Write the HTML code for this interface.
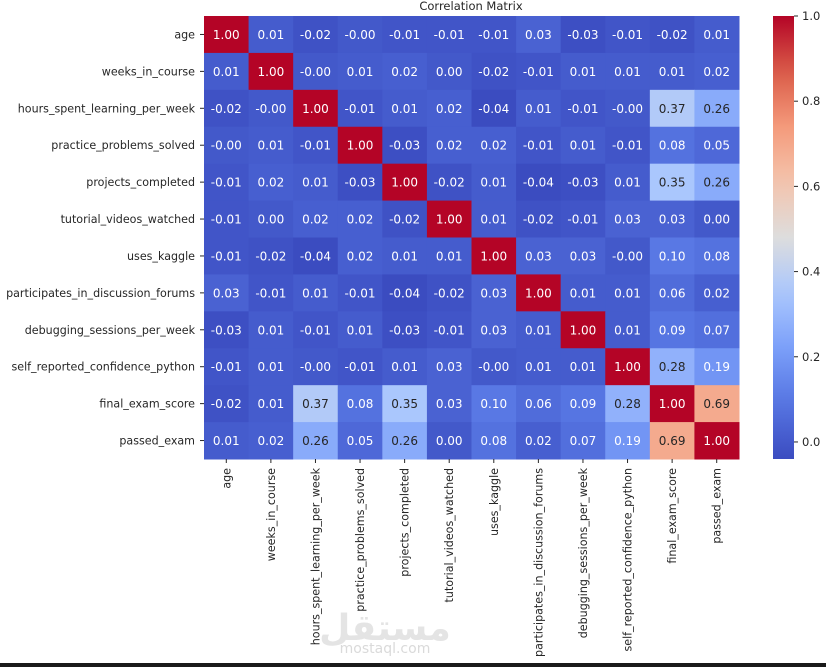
<!DOCTYPE html>
<html><head><meta charset="utf-8"><style>
body{margin:0;background:#fff;width:826px;height:667px;overflow:hidden;font-family:"DejaVu Sans","Liberation Sans",sans-serif}
</style></head><body>
<svg id="chart" width="826" height="667" xmlns="http://www.w3.org/2000/svg" font-family="DejaVu Sans, Liberation Sans, sans-serif">
<text x="471" y="10" font-size="11.5" text-anchor="middle" fill="#262626">Correlation Matrix</text>
<g id="cells"></g><g id="ylabels"></g><g id="xlabels"></g>
<defs><linearGradient id="cbg" x1="0" y1="1" x2="0" y2="0" gradientUnits="objectBoundingBox"></linearGradient></defs>
<rect x="773" y="16" width="21" height="443" fill="url(#cbg)"/>
<g id="cbticks"></g>
<text x="385" y="640" font-size="36" font-weight="bold" fill="#e4e4e4" text-anchor="middle" font-family="DejaVu Sans, sans-serif">مستقل</text>
<text x="385" y="653" font-size="14" fill="#dadada" text-anchor="middle">mostaql.com</text>
<rect x="0" y="663" width="826" height="4" fill="#1a1a1a"/>
</svg>
<script>
const labels=["age","weeks_in_course","hours_spent_learning_per_week","practice_problems_solved","projects_completed","tutorial_videos_watched","uses_kaggle","participates_in_discussion_forums","debugging_sessions_per_week","self_reported_confidence_python","final_exam_score","passed_exam"];
const matrix=[
[1.00,0.01,-0.02,-0.00,-0.01,-0.01,-0.01,0.03,-0.03,-0.01,-0.02,0.01],
[0.01,1.00,-0.00,0.01,0.02,0.00,-0.02,-0.01,0.01,0.01,0.01,0.02],
[-0.02,-0.00,1.00,-0.01,0.01,0.02,-0.04,0.01,-0.01,-0.00,0.37,0.26],
[-0.00,0.01,-0.01,1.00,-0.03,0.02,0.02,-0.01,0.01,-0.01,0.08,0.05],
[-0.01,0.02,0.01,-0.03,1.00,-0.02,0.01,-0.04,-0.03,0.01,0.35,0.26],
[-0.01,0.00,0.02,0.02,-0.02,1.00,0.01,-0.02,-0.01,0.03,0.03,0.00],
[-0.01,-0.02,-0.04,0.02,0.01,0.01,1.00,0.03,0.03,-0.00,0.10,0.08],
[0.03,-0.01,0.01,-0.01,-0.04,-0.02,0.03,1.00,0.01,0.01,0.06,0.02],
[-0.03,0.01,-0.01,0.01,-0.03,-0.01,0.03,0.01,1.00,0.01,0.09,0.07],
[-0.01,0.01,-0.00,-0.01,0.01,0.03,-0.00,0.01,0.01,1.00,0.28,0.19],
[-0.02,0.01,0.37,0.08,0.35,0.03,0.10,0.06,0.09,0.28,1.00,0.69],
[0.01,0.02,0.26,0.05,0.26,0.00,0.08,0.02,0.07,0.19,0.69,1.00]];
const cbTicks=[0.0,0.2,0.4,0.6,0.8,1.0];
const vmin=-0.04,vmax=1.0;
const X0=204,Y0=16,W=535,H=443;
const n=labels.length,cw=W/n,ch=H/n;
const stops=[[0,59,76,192],[0.125,86,117,226],[0.25,123,159,249],[0.375,170,199,253],[0.5,221,221,221],[0.625,244,196,173],[0.75,244,154,123],[0.875,218,92,72],[1,180,4,38]];
function cmap(t){t=Math.max(0,Math.min(1,t));for(let i=1;i<stops.length;i++){if(t<=stops[i][0]){const a=stops[i-1],b=stops[i],f=(t-a[0])/(b[0]-a[0]);return [1,2,3].map(k=>Math.round(a[k]+(b[k]-a[k])*f));}}return stops[8].slice(1);}
const norm=v=>(v-vmin)/(vmax-vmin);
const fmt=v=>(Object.is(v,-0)?'-':'')+v.toFixed(2);
const ns="http://www.w3.org/2000/svg";
function mk(t,a,p){const e=document.createElementNS(ns,t);for(const k in a)e.setAttribute(k,a[k]);p.appendChild(e);return e;}
const cells=document.getElementById('cells');
matrix.forEach((row,r)=>row.forEach((v,c)=>{
 const col=cmap(norm(v));
 const rc=mk('rect',{x:X0+c*cw,y:Y0+r*ch,width:cw+0.5,height:ch+0.5,fill:`rgb(${col})`},cells);
 
 
 const lum=(0.299*col[0]+0.587*col[1]+0.114*col[2]);
 const tx=mk('text',{x:X0+(c+0.5)*cw,y:Y0+(r+0.5)*ch+4.5,'font-size':12,'text-anchor':'middle',fill:lum>150?'#262626':'#ffffff'},cells);
 
 
 tx.textContent=fmt(v);
}));
const yl=document.getElementById('ylabels'),xl=document.getElementById('xlabels');
labels.forEach((l,i)=>{
 const y=Y0+(i+0.5)*ch;
 mk('line',{x1:X0-4,x2:X0,y1:y,y2:y,stroke:'#262626','stroke-width':1},yl);
 const t=mk('text',{x:X0-9,y:y+4,'font-size':11.1,'text-anchor':'end',fill:'#262626'},yl);
 
 
 t.textContent=l;
 const x=X0+(i+0.5)*cw;
 mk('line',{x1:x,x2:x,y1:Y0+H,y2:Y0+H+4,stroke:'#262626','stroke-width':1},xl);
 const t2=mk('text',{x:0,y:0,'font-size':11.1,'text-anchor':'end',fill:'#262626',transform:`translate(${x+4},${Y0+H+9}) rotate(-90)`},xl);
 
 
 t2.textContent=l;
});
const g=document.getElementById('cbg');
for(let i=0;i<=20;i++){const t=i/20;const col=cmap(t);mk('stop',{offset:t,'stop-color':`rgb(${col})`},g);}
const cb=document.getElementById('cbticks');
cbTicks.forEach(v=>{
 const y=Y0+H-norm(v)*H;
 mk('line',{x1:794,x2:798,y1:y,y2:y,stroke:'#262626','stroke-width':1},cb);
 const t=mk('text',{x:802,y:y+4,'font-size':11.5,fill:'#262626'},cb);
 
 
 t.textContent=v.toFixed(1);
});
</script>
</body></html>
